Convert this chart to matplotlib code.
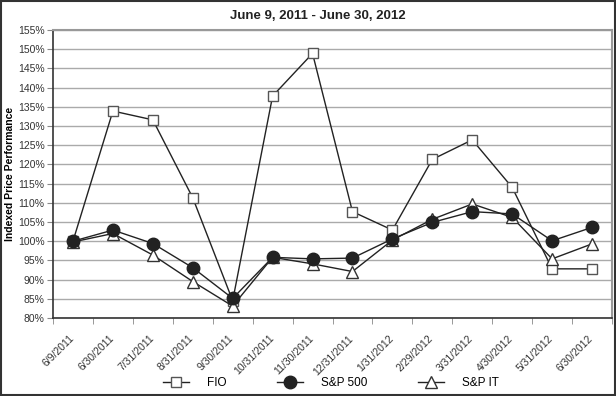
import matplotlib.pyplot as plt
import matplotlib.transforms as mtransforms
import numpy as np
from matplotlib.ticker import FixedLocator, NullFormatter

dates = ["6/9/2011", "6/30/2011", "7/31/2011", "8/31/2011", "9/30/2011",
         "10/31/2011", "11/30/2011", "12/31/2011", "1/31/2012", "2/29/2012",
         "3/31/2012", "4/30/2012", "5/31/2012", "6/30/2012"]
fio = [100, 133.9, 131.6, 111.3, 84.5, 137.8, 148.9, 107.7, 102.9, 121.3, 126.4, 114.0, 92.8, 92.8]
sp500 = [100, 102.9, 99.4, 93.1, 85.1, 95.8, 95.4, 95.6, 100.6, 104.9, 107.7, 107.1, 100.1, 103.6]
spit = [99.8, 102.0, 96.4, 89.5, 83.1, 95.8, 94.1, 92.1, 100.3, 105.7, 109.7, 106.2, 95.4, 99.3]

plt.rcParams['font.family'] = ['Liberation Sans', 'DejaVu Sans']

fig = plt.figure(figsize=(6.16, 3.96), dpi=100)
ax = fig.add_axes([53/616, 1-318/396, 559/616, 288/396])

x = np.arange(len(dates))
ax.plot(x, fio, color='#222222', lw=1, marker='s', ms=6.5, mfc='white', mec='#555555', mew=1, label='FIO', zorder=3)
ax.plot(x, sp500, color='#222222', lw=1, marker='o', ms=9, mfc='#222222', mec='#222222', label='S&P 500', zorder=4)
ax.plot(x, spit, color='#222222', lw=1, marker='^', ms=8, mfc='white', mec='#333333', mew=1, label='S&P IT', zorder=3)

ax.set_xlim(-0.5, len(dates) - 0.5)
ax.set_ylim(80, 155)
yt = np.arange(80, 156, 5)
ax.set_yticks(yt)
ax.set_yticklabels([f"{v}%" for v in yt], fontsize=7.5, color='#333333')
ax.yaxis.grid(True, color='#aaaaaa', lw=1)
ax.set_axisbelow(True)

ax.set_xticks(x)
ax.set_xticklabels(dates, rotation=45, ha='right', rotation_mode='anchor', fontsize=7.5, color='#333333')
ax.tick_params(axis='x', which='major', length=0, pad=11)
# nudge the slanted date labels a little to the left
shift = mtransforms.ScaledTranslation(-4/100, 0, fig.dpi_scale_trans)
for lbl in ax.get_xticklabels():
    lbl.set_transform(lbl.get_transform() + shift)
ax.xaxis.set_minor_locator(FixedLocator(np.arange(-0.5, len(dates), 1)))
ax.xaxis.set_minor_formatter(NullFormatter())
ax.tick_params(axis='x', which='minor', length=4, color='#888888')
ax.tick_params(axis='y', length=4, color='#888888', pad=2)

for s in ['left', 'bottom']:
    ax.spines[s].set_color('#333333')
    ax.spines[s].set_linewidth(1.2)
for s in ['top', 'right']:
    ax.spines[s].set_color('#999999')
    ax.spines[s].set_linewidth(1.5)

ax.set_ylabel('Indexed Price Performance', fontsize=7.5, fontweight='bold', labelpad=2)
fig.text(318/616, 1-16/396, 'June 9, 2011 - June 30, 2012', ha='center', va='center',
         fontsize=9.5, fontweight='bold', color='#222222')

fig.legend(loc='center', bbox_to_anchor=(331/616, 1-383/396), ncol=3, frameon=False,
           fontsize=8.5, handlelength=2.2, columnspacing=4.3, handletextpad=1.5)

fig.patches.append(plt.Rectangle((0.001, 0.002), 0.997, 0.995, transform=fig.transFigure,
                                 fill=False, ec='#333333', lw=1.5))

fig.savefig('out.png', dpi=100)
